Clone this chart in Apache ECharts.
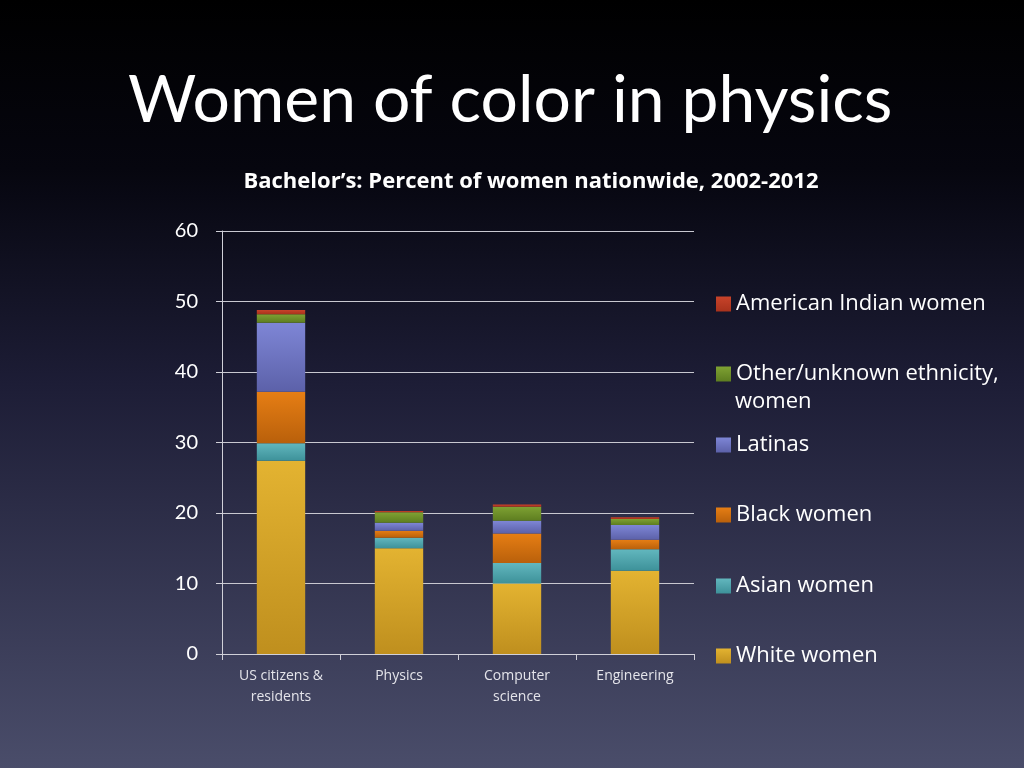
<!DOCTYPE html>
<html><head><meta charset="utf-8">
<script src="https://cdn.jsdelivr.net/npm/echarts@6/dist/echarts.min.js"></script>
<style>html,body{margin:0;padding:0;width:1024px;height:768px;overflow:hidden;background:#000}#c{width:1024px;height:768px}</style>
</head><body><div id="c"></div>
<script>
const categories = ['US citizens &\nresidents', 'Physics', 'Computer\nscience', 'Engineering'];
const whiteWomen = [27.4, 15.0, 10.0, 11.8];
const asianWomen = [2.5, 1.5, 2.9, 3.05];
const blackWomen = [7.3, 1.0, 4.2, 1.35];
const latinas = [9.8, 1.1, 1.8, 2.1];
const otherWomen = [1.2, 1.5, 2.0, 0.85];
const americanIndianWomen = [0.6, 0.2, 0.3, 0.25];
const yTicks = [0, 10, 20, 30, 40, 50, 60];

function grad(top, bottom) {
  return new echarts.graphic.LinearGradient(0, 0, 0, 1, [{offset: 0, color: top}, {offset: 1, color: bottom}]);
}
const seriesDefs = [
  {name: 'White women', data: whiteWomen, c: ['#e3b331', '#bf8f1e'], icon: '#d8a728'},
  {name: 'Asian women', data: asianWomen, c: ['#62b7be', '#3d9199'], icon: '#55a8b0'},
  {name: 'Black women', data: blackWomen, c: ['#e67e14', '#b9600b'], icon: '#d9730f'},
  {name: 'Latinas', data: latinas, c: ['#7e86d6', '#5c61a9'], icon: '#6f77c4'},
  {name: 'Other/unknown ethnicity, women', data: otherWomen, c: ['#7fa233', '#5d7d20'], icon: '#6f9129'},
  {name: 'American Indian women', data: americanIndianWomen, c: ['#c8432a', '#a8321c'], icon: '#c13b24'}
];
const chart = echarts.init(document.getElementById('c'));
const FONT = 'Lato, "Open Sans", sans-serif';
const FONT2 = '"Open Sans", Lato, sans-serif';
const legendTops = [288, 358, 429, 499, 570, 640];
const legendOrder = ['American Indian women', 'Other/unknown ethnicity, women', 'Latinas', 'Black women', 'Asian women', 'White women'];
const legends = legendOrder.map((n, i) => ({
  show: true, orient: 'vertical', left: 711, top: legendTops[i],
  data: [n], itemWidth: 15, itemHeight: 15, itemGap: 0, selectedMode: false,
  icon: 'rect',
  formatter: (name) => name === 'Other/unknown ethnicity, women' ? 'Other/unknown ethnicity,' : name,
  textStyle: {color: '#ffffff', fontSize: 22, fontFamily: FONT2, padding: [0, 0, 0, 0]}
}));
chart.setOption({
  backgroundColor: new echarts.graphic.LinearGradient(0, 0, 0, 1, [
    {offset: 0, color: '#000000'}, {offset: 0.22, color: '#06060f'}, {offset: 0.5, color: '#1d1d36'}, {offset: 1, color: '#4a4d6a'}
  ]),
  title: [
    {text: 'Women of color in physics', left: 123, top: 63, textStyle: {color: '#ffffff', fontSize: 66, fontWeight: 'normal', fontFamily: FONT}},
    {text: 'Bachelor\u2019s: Percent of women nationwide, 2002-2012', left: 526, textAlign: 'center', top: 166, textStyle: {color: '#ffffff', fontSize: 22, fontWeight: 'bold', fontFamily: FONT2}}
  ],
  legend: legends,
  graphic: [{type: 'text', left: 735, top: 391, style: {text: 'women', fill: '#ffffff', fontSize: 22, fontFamily: FONT2}}],
  grid: {left: 222, right: 330, top: 231, bottom: 114, containLabel: false},
  xAxis: {
    type: 'category', data: categories,
    axisLine: {lineStyle: {color: '#d0d0d8', width: 1}},
    axisTick: {show: true, length: 6, lineStyle: {color: '#d0d0d8'}},
    axisLabel: {color: '#e4e4ea', fontSize: 14, fontFamily: FONT2, lineHeight: 21, margin: 12}
  },
  yAxis: {
    type: 'value', min: yTicks[0], max: yTicks[yTicks.length - 1], interval: 10,
    axisLine: {show: true, lineStyle: {color: '#d0d0d8'}},
    axisTick: {show: true, length: 6, lineStyle: {color: '#d0d0d8'}},
    axisLabel: {color: '#ffffff', fontSize: 20, fontFamily: FONT, margin: 24},
    splitLine: {lineStyle: {color: '#c8c8d0', width: 1}}
  },
  series: seriesDefs.map(s => ({
    name: s.name, type: 'bar', stack: 'total', data: s.data, barWidth: '41%',
    itemStyle: {color: grad(s.c[0], s.c[1])},
    emphasis: {disabled: true}
  })),
  color: seriesDefs.map(s => s.icon),
  animation: false
});
</script></body></html>
